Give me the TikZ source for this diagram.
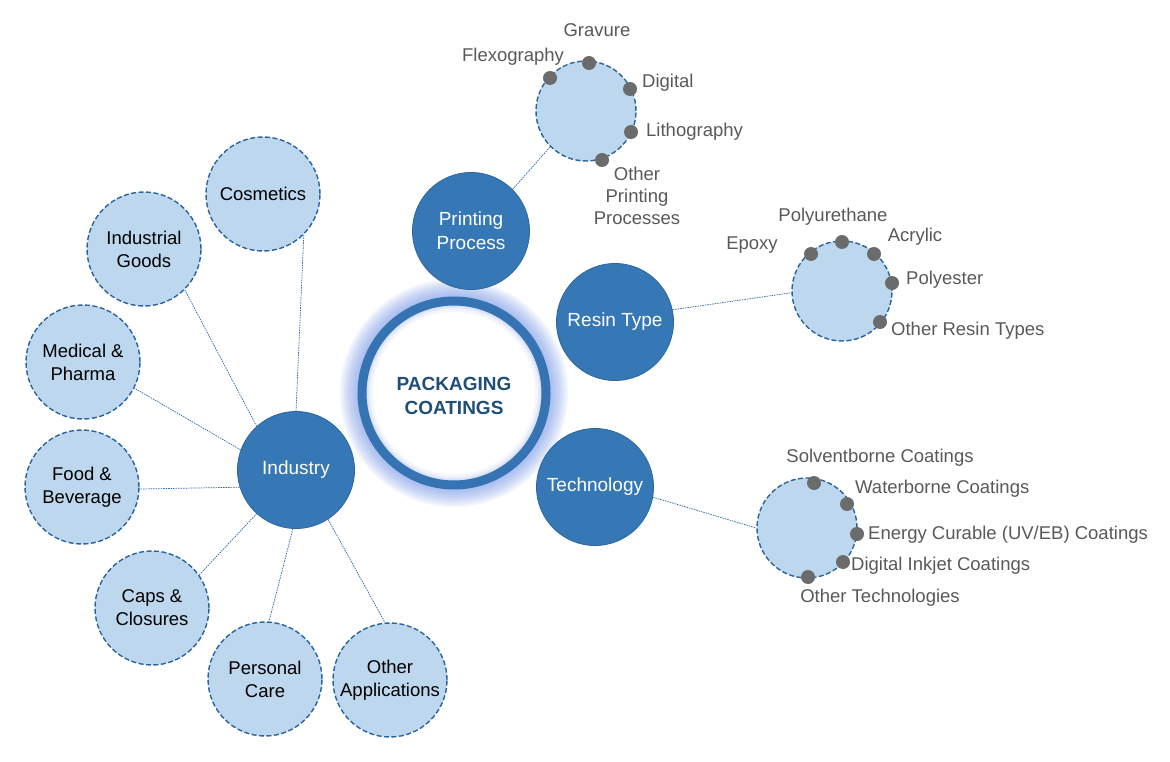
\documentclass[tikz,border=0pt]{standalone}
\usepackage{fontspec}
\setmainfont{Liberation Sans}
\usetikzlibrary{calc}
\definecolor{darkb}{HTML}{3677B6}
\definecolor{darkbd}{HTML}{2C65A0}
\definecolor{lightb}{HTML}{BDD7EE}
\definecolor{dashb}{HTML}{2A64A0}
\definecolor{dotg}{HTML}{6B6B6B}
\definecolor{labg}{HTML}{595959}
\definecolor{titleb}{HTML}{1F4E79}
\definecolor{glowb}{HTML}{5F86E6}
\definecolor{ringb}{HTML}{3573B2}
\pgfdeclarelayer{bg}
\pgfsetlayers{bg,main}
\tikzset{
  mainnode/.style={circle, fill=darkb, draw=darkbd, line width=0.8pt, minimum size=117pt, inner sep=0pt, text=white, font=\fontsize{19}{24}\selectfont, align=center},
  subnode/.style={circle, fill=lightb, draw=dashb, dash pattern=on 5pt off 2.5pt, line width=1.4pt, minimum size=114pt, inner sep=0pt, font=\fontsize{18.5}{23}\selectfont, align=center, text=black},
  subsmall/.style={subnode, minimum size=100pt},
  dotnode/.style={circle, fill=dotg, minimum size=14pt, inner sep=0pt},
  lab/.style={text=labg, font=\fontsize{18.5}{22}\selectfont, inner sep=0pt, align=center},
  link/.style={draw=dashb, line width=0.7pt, dash pattern=on 1.5pt off 1pt}
}
\begin{document}
\begin{tikzpicture}[x=1pt,y=-1pt]
\useasboundingbox (0,0) rectangle (1170,762);

% central glow and ring
\coordinate (c) at (454,393);
\foreach \r in {96,98,...,114} {
  \fill[glowb, fill opacity=0.075] (c) circle (\r);
}
\fill[white] (c) circle (90);
\foreach \r/\o in {88/0.35,86/0.2,84/0.1,82/0.05} {
  \draw[glowb, opacity=\o, line width=2pt] (c) circle (\r);
}
\draw[ringb, line width=9pt] (c) circle (92);
\node[font=\bfseries\fontsize{19}{24}\selectfont, text=titleb, align=center] (title) at (454,396) {PACKAGING\\COATINGS};

% main nodes
\node[mainnode] (pp) at (471,231) {Printing\\Process};
\node[mainnode] (rt) at (615,322) {Resin Type};
\node[mainnode] (tech) at (595,487) {Technology};
\node[mainnode] (ind) at (296,470) {Industry};

% industry sub circles
\node[subnode] (cos) at (263,194) {Cosmetics};
\node[subnode] (ig) at (144,249) {Industrial\\Goods};
\node[subnode] (med) at (83,362) {Medical \&\\Pharma};
\node[subnode] (food) at (82,487) {Food \&\\Beverage};
\node[subnode] (caps) at (152,608) {Caps \&\\Closures};
\node[subnode] (pc) at (265,679) {Personal\\Care};
\node[subnode] (oa) at (390,680) {Other\\Applications};

% detail circles
\node[subsmall] (ppsub) at (586,111) {};
\node[subsmall] (rtsub) at (842,291) {};
\node[subsmall] (techsub) at (807,528) {};

% connectors
\begin{pgfonlayer}{bg}
\fill[white] (0,0) rectangle (1170,762);
\draw[link] (pp.45) -- (ppsub.225);
\draw[link] (rt.12) -- (rtsub.182);
\draw[link] (tech.-10) -- (techsub.180);
\draw[link] (ind.90) -- (cos.-45);
\draw[link] (ind.132) -- (ig.-45);
\draw[link] (ind.160) -- (med.-27);
\draw[link] (ind.197) -- (food.-2);
\draw[link] (ind.228) -- (caps.35);
\draw[link] (ind.-93) -- (pc.86);
\draw[link] (ind.-57) -- (oa.95);
\end{pgfonlayer}

% printing dots and labels
\node[dotnode] (d1) at (550,78) {};
\node[dotnode] (d2) at (589,63) {};
\node[dotnode] (d3) at (630,89) {};
\node[dotnode] (d4) at (631,132) {};
\node[dotnode] (d5) at (602,160) {};
\node[lab] (l1) at (513,57) {Flexography};
\node[lab] (l2) at (597,30) {Gravure};
\node[lab, anchor=west] (l3) at (642,83) {Digital};
\node[lab, anchor=west] (l4) at (646,132) {Lithography};
\node[lab] (l5) at (637,196) {Other\\Printing\\Processes};

% resin dots and labels
\node[dotnode] (r1) at (811,254) {};
\node[dotnode] (r2) at (842,242) {};
\node[dotnode] (r3) at (874,254) {};
\node[dotnode] (r4) at (892,283) {};
\node[dotnode] (r5) at (880,322) {};
\node[lab] (rl1) at (752,245) {Epoxy};
\node[lab] (rl2) at (833,217) {Polyurethane};
\node[lab] (rl3) at (915,237) {Acrylic};
\node[lab, anchor=west] (rl4) at (906,280) {Polyester};
\node[lab, anchor=west] (rl5) at (891,331) {Other Resin Types};

% technology dots and labels
\node[dotnode] (t1) at (814,483) {};
\node[dotnode] (t2) at (847,504) {};
\node[dotnode] (t3) at (857,534) {};
\node[dotnode] (t4) at (843,562) {};
\node[dotnode] (t5) at (808,577) {};
\node[lab] (tl1) at (880,458) {Solventborne Coatings};
\node[lab, anchor=west] (tl2) at (855,489) {Waterborne Coatings};
\node[lab, anchor=west] (tl3) at (868,535) {Energy Curable (UV/EB) Coatings};
\node[lab, anchor=west] (tl4) at (851,566) {Digital Inkjet Coatings};
\node[lab] (tl5) at (880,598) {Other Technologies};
\end{tikzpicture}
\end{document}
